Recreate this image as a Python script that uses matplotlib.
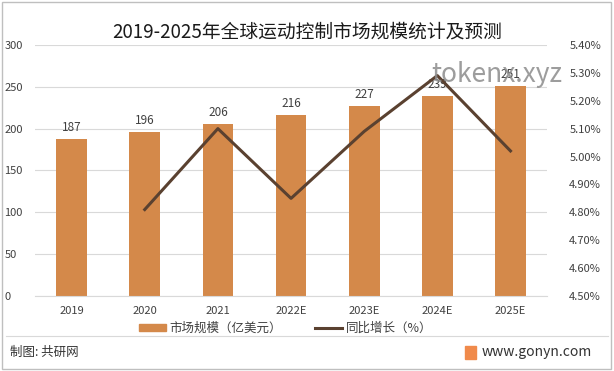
import numpy as np
import matplotlib
matplotlib.use('Agg')
from matplotlib import pyplot as plt
from matplotlib.patches import Rectangle
from matplotlib.lines import Line2D

plt.rcParams['font.family'] = ['Noto Sans CJK SC', 'DejaVu Sans']

years = ['2019', '2020', '2021', '2022E', '2023E', '2024E', '2025E']
market = [187, 196, 206, 216, 227, 239, 251]
growth = [None, 4.81, 5.10, 4.85, 5.09, 5.29, 5.02]
left_ticks = [0, 50, 100, 150, 200, 250, 300]
right_ticks = [4.5, 4.6, 4.7, 4.8, 4.9, 5.0, 5.1, 5.2, 5.3, 5.4]

bar_color = '#D4894A'
line_color = '#5A4130'
txt = '#404040'

fig = plt.figure(figsize=(6.14, 3.71), dpi=100)
# outer frame
fig.patches.append(Rectangle((0.003, 0.005), 0.992, 0.99, transform=fig.transFigure,
                             fill=False, edgecolor='#BFBFBF', lw=1))

ax = fig.add_axes([0.057, 0.202, 0.834, 0.677])
x = np.arange(len(years))
ax.bar(x, market, width=0.42, color=bar_color, zorder=2)
for xi, v in zip(x, market):
    ax.text(xi, v + 6, str(v), ha='center', va='bottom', fontsize=8.5, color=txt, zorder=4)

ax.set_ylim(0, 300)
ax.set_xlim(-0.5, len(years) - 0.5)
ax.set_yticks(left_ticks)
ax.yaxis.grid(True, color='#D9D9D9', lw=0.8, zorder=0)
ax.set_axisbelow(True)
for s in ['top', 'right', 'left']:
    ax.spines[s].set_visible(False)
ax.spines['bottom'].set_color('#D9D9D9')
ax.tick_params(axis='both', length=0, labelsize=8, labelcolor=txt)
ax.tick_params(axis='y', pad=22)
for lab in ax.get_yticklabels():
    lab.set_horizontalalignment('left')
ax.set_xticks(x)
ax.set_xticklabels(years)
ax.tick_params(axis='x', pad=7)

ax2 = ax.twinx()
gx = [xi for xi, g in zip(x, growth) if g is not None]
gy = [g for g in growth if g is not None]
ax2.plot(gx, gy, color=line_color, lw=2.2, zorder=3)
ax2.set_ylim(4.5, 5.4)
ax2.set_yticks(right_ticks)
ax2.set_yticklabels(['%.2f%%' % t for t in right_ticks])
ax2.tick_params(axis='y', length=0, labelsize=8, labelcolor=txt, pad=16)
for s in ax2.spines.values():
    s.set_visible(False)

fig.text(0.5, 0.915, '2019-2025年全球运动控制市场规模统计及预测', ha='center', va='center',
         fontsize=13.5, color='#1A1A1A')

handles = [Rectangle((0, 0), 1, 1, color=bar_color),
           Line2D([0], [0], color=line_color, lw=2.2)]
fig.legend(handles, ['市场规模（亿美元）', '同比增长（%）'], loc='center',
           bbox_to_anchor=(0.465, 0.115), ncol=2, frameon=False, fontsize=9,
           handlelength=2.2, handleheight=0.5, handletextpad=0.3, columnspacing=2.6,
           labelcolor=txt)

fig.add_artist(Line2D([0.01, 0.99], [0.094, 0.094], transform=fig.transFigure,
                      color='#D9D9D9', lw=0.8))
fig.text(0.016, 0.05, '制图: 共研网', ha='left', va='center', fontsize=9, color='#333333')
fig.patches.append(Rectangle((0.757, 0.033), 0.018, 0.035, transform=fig.transFigure,
                             color='#F08A4B'))
fig.text(0.785, 0.05, 'www.gonyn.com', ha='left', va='center', fontsize=10, color='#333333')

fig.text(0.703, 0.80, 'tokenx.xyz', ha='left', va='center', fontsize=19, color='#8C8C8C',
         alpha=0.85, zorder=10)

fig.savefig('out.png', dpi=100)
